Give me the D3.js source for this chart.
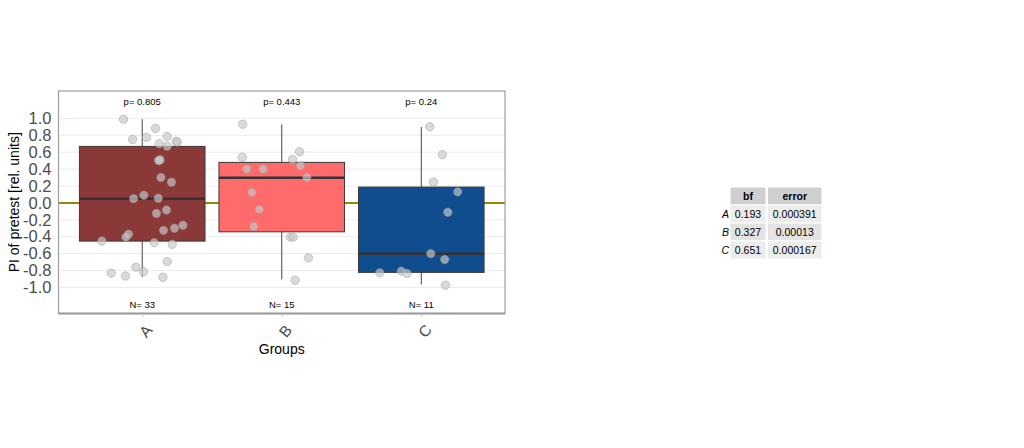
<!DOCTYPE html>
<html>
<head>
<meta charset="utf-8">
<script src="https://cdn.jsdelivr.net/npm/d3@7"></script>
<style>
  body { margin: 0; background: #fff; }
  text { font-family: "Liberation Sans", Arial, sans-serif; }
</style>
</head>
<body>
<div id="chart"></div>
<script>
// groups and box statistics
var groups = ['A', 'B', 'C'];
var whiskerLow = [-0.875, -0.905, -0.965];
var lowerQ = [-0.452, -0.342, -0.822];
var medians = [0.048, 0.297, -0.602];
var upperQ = [0.668, 0.479, 0.187];
var whiskerHigh = [0.99, 0.929, 0.897];
var pLabels = ['0.805', '0.443', '0.24'];
var nCounts = [33, 15, 11];

// raw observations, and their horizontal jitter in category units
var valuesA = [0.99, 0.88, 0.75, 0.775, 0.785, 0.70, 0.67, 0.725, 0.72, 0.50, 0.51, 0.505, 0.30, 0.245,
               0.05, 0.09, 0.055, -0.085, -0.125, -0.265, -0.30, -0.325, -0.37, -0.405, -0.45, -0.47,
               -0.49, -0.695, -0.76, -0.815, -0.83, -0.865, -0.88];
var jitterA = [-0.134, 0.095, -0.069, 0.031, 0.179, 0.122, 0.179, 0.244, 0.251, 0.117, 0.129, 0.122, 0.134, 0.210,
               -0.062, 0.012, 0.115, 0.174, 0.102, 0.292, 0.231, 0.153, -0.098, -0.117, -0.289, 0.086,
               0.215, 0.179, -0.045, 0.009, -0.222, -0.120, 0.148];
var valuesB = [0.93, 0.605, 0.54, 0.515, 0.44, 0.40, 0.40, 0.30, 0.124, -0.077, -0.28, -0.405, -0.405, -0.65, -0.915];
var jitterB = [-0.28, 0.127, -0.283, 0.077, 0.134, -0.25, -0.133, 0.18, -0.214, -0.16, -0.2, 0.062, 0.082, 0.191, 0.096];
var valuesC = [0.90, 0.57, 0.246, 0.13, -0.11, -0.60, -0.67, -0.827, -0.807, -0.834, -0.973];
var jitterC = [0.061, 0.151, 0.087, 0.261, 0.19, 0.068, 0.168, -0.297, -0.143, -0.102, 0.173];

var yTicks = [-1.0, -0.8, -0.6, -0.4, -0.2, 0.0, 0.2, 0.4, 0.6, 0.8, 1.0];

// Bayes factor table
var tableHeader = ['bf', 'error'];
var tableRows = ['A', 'B', 'C'];
var bfValues = ['0.193', '0.327', '0.651'];
var errorValues = ['0.000391', '0.00013', '0.000167'];

var panel = {left: 58.5, right: 505, top: 91, bottom: 313.5};

var svg = d3.select('#chart').append('svg')
    .attr('width', 1024)
    .attr('height', 448);

var x = d3.scalePoint().domain(groups).range([panel.left, panel.right]).padding(0.6);
var step = x.step();
var y = d3.scaleLinear().domain([-1.308, 1.323]).range([panel.bottom, panel.top]);
var fill = d3.scaleOrdinal().domain(groups).range(['#8a3838', '#ff6b6b', '#0f4d8e']);

// panel + grid
svg.append('rect')
    .attr('x', panel.left).attr('y', panel.top)
    .attr('width', panel.right - panel.left).attr('height', panel.bottom - panel.top)
    .style('fill', '#fff');

svg.append('g').selectAll('line')
    .data(yTicks)
    .join('line')
    .attr('x1', panel.left).attr('x2', panel.right)
    .attr('y1', d => y(d)).attr('y2', d => y(d))
    .style('stroke', '#ebebeb')
    .style('stroke-width', 1);

// zero reference line
svg.append('line')
    .attr('x1', panel.left).attr('x2', panel.right)
    .attr('y1', y(0)).attr('y2', y(0))
    .style('stroke', '#9b8600')
    .style('stroke-width', 2);

var boxes = groups.map((g, i) => ({
    g: g, lo: whiskerLow[i], q1: lowerQ[i], med: medians[i], q3: upperQ[i], hi: whiskerHigh[i]
}));
var boxW = step * 0.9;

var bg = svg.append('g');
bg.selectAll('line.whisker')
    .data(boxes)
    .join('line')
    .attr('class', 'whisker')
    .attr('x1', d => x(d.g)).attr('x2', d => x(d.g))
    .attr('y1', d => y(d.lo)).attr('y2', d => y(d.hi))
    .style('stroke', '#444')
    .style('stroke-width', 1);
bg.selectAll('rect')
    .data(boxes)
    .join('rect')
    .attr('x', d => x(d.g) - boxW / 2)
    .attr('y', d => y(d.q3))
    .attr('width', boxW)
    .attr('height', d => y(d.q1) - y(d.q3))
    .style('fill', d => fill(d.g))
    .style('stroke', '#3a3a3a')
    .style('stroke-width', 1);
bg.selectAll('line.median')
    .data(boxes)
    .join('line')
    .attr('class', 'median')
    .attr('x1', d => x(d.g) - boxW / 2).attr('x2', d => x(d.g) + boxW / 2)
    .attr('y1', d => y(d.med)).attr('y2', d => y(d.med))
    .style('stroke', '#333')
    .style('stroke-width', 2.6);

// jittered points
var pts = [];
[[valuesA, jitterA], [valuesB, jitterB], [valuesC, jitterC]].forEach((p, i) => {
    p[0].forEach((v, j) => pts.push({g: groups[i], v: v, jx: p[1][j]}));
});
svg.append('g').selectAll('circle')
    .data(pts)
    .join('circle')
    .attr('cx', d => x(d.g) + d.jx * step)
    .attr('cy', d => y(d.v))
    .attr('r', 4.2)
    .style('fill', '#c8c8c8')
    .style('fill-opacity', 0.68)
    .style('stroke', '#9a9a9a')
    .style('stroke-opacity', 0.6)
    .style('stroke-width', 0.8);

// p and N annotations
svg.append('g').selectAll('text')
    .data(groups)
    .join('text')
    .attr('x', d => x(d))
    .attr('y', y(1.2))
    .attr('dy', '0.35em')
    .attr('text-anchor', 'middle')
    .style('font-size', '9.5px')
    .text((d, i) => 'p= ' + pLabels[i]);
svg.append('g').selectAll('text')
    .data(groups)
    .join('text')
    .attr('x', d => x(d))
    .attr('y', y(-1.2))
    .attr('dy', '0.35em')
    .attr('text-anchor', 'middle')
    .style('font-size', '9.5px')
    .text((d, i) => 'N= ' + nCounts[i]);

// panel border
svg.append('rect')
    .attr('x', panel.left).attr('y', panel.top)
    .attr('width', panel.right - panel.left).attr('height', panel.bottom - panel.top)
    .style('fill', 'none')
    .style('stroke', '#9e9e9e')
    .style('stroke-width', 1.2);
svg.append('line')
    .attr('x1', panel.left).attr('x2', panel.right)
    .attr('y1', panel.bottom).attr('y2', panel.bottom)
    .style('stroke', '#999')
    .style('stroke-width', 1.8);

// Axes
var yAxis = d3.axisLeft(y).tickValues(yTicks).tickSize(0).tickPadding(7)
    .tickFormat(d => d.toFixed(1));
var ya = svg.append('g').attr('transform', 'translate(' + panel.left + ',0)').call(yAxis);
ya.select('.domain').remove();
ya.selectAll('text').style('font-size', '16.5px').style('fill', '#4d4d4d')
    .style('font-family', '"Liberation Sans", Arial, sans-serif');

var xAxis = d3.axisBottom(x).tickSize(3).tickPadding(0);
var xa = svg.append('g').attr('transform', 'translate(0,' + (panel.bottom + 1) + ')').call(xAxis);
xa.select('.domain').remove();
xa.selectAll('line').style('stroke', '#cfcfcf');
xa.selectAll('text')
    .attr('y', 0).attr('dy', null)
    .attr('text-anchor', 'middle')
    .attr('dominant-baseline', 'central')
    .attr('transform', 'translate(3,16.5) rotate(-50)')
    .style('font-size', '15.5px')
    .style('fill', '#4d4d4d')
    .style('font-family', '"Liberation Sans", Arial, sans-serif');

// Axes labels
svg.append('text')
    .attr('x', (panel.left + panel.right) / 2)
    .attr('y', 349)
    .attr('dy', '0.35em')
    .attr('text-anchor', 'middle')
    .style('font-size', '14px')
    .text('Groups');
svg.append('text')
    .attr('transform', 'translate(14,' + ((panel.top + panel.bottom) / 2) + ') rotate(-90)')
    .attr('dy', '0.35em')
    .attr('text-anchor', 'middle')
    .style('font-size', '14px')
    .text('PI of pretest [rel. units]');

// Table
var colX = [730, 767.5], colW = [36, 54.5], rowH = 18, tTop = 187;
var tbl = svg.append('g');
tableHeader.forEach((h, c) => {
    tbl.append('rect')
        .attr('x', colX[c]).attr('y', tTop)
        .attr('width', colW[c]).attr('height', rowH)
        .style('fill', '#cfcfcf')
        .style('stroke', '#fff').style('stroke-width', 1);
    tbl.append('text')
        .attr('x', colX[c] + colW[c] / 2).attr('y', tTop + rowH / 2)
        .attr('dy', '0.35em').attr('text-anchor', 'middle')
        .style('font-size', '10.5px').style('font-weight', 'bold')
        .text(h);
});
tableRows.forEach((r, i) => {
    var ry = tTop + rowH * (i + 1);
    var cells = [bfValues[i], errorValues[i]];
    cells.forEach((v, c) => {
        tbl.append('rect')
            .attr('x', colX[c]).attr('y', ry)
            .attr('width', colW[c]).attr('height', rowH)
            .style('fill', i % 2 == 0 ? '#ececec' : '#e3e3e3')
            .style('stroke', '#fff').style('stroke-width', 1);
        tbl.append('text')
            .attr('x', colX[c] + colW[c] / 2).attr('y', ry + rowH / 2)
            .attr('dy', '0.35em').attr('text-anchor', 'middle')
            .style('font-size', '10.5px')
            .text(v);
    });
    tbl.append('text')
        .attr('x', 729).attr('y', ry + rowH / 2)
        .attr('dy', '0.35em').attr('text-anchor', 'end')
        .style('font-size', '10.5px').style('font-style', 'italic')
        .text(r);
});
</script>
</body>
</html>
